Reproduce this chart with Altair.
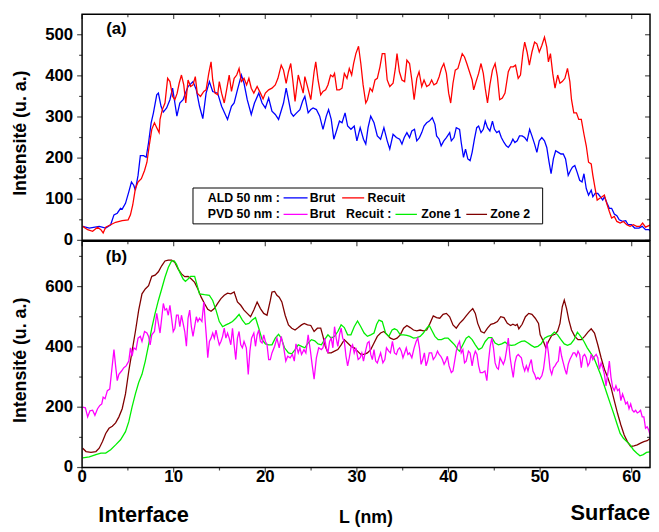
import altair as alt
import pandas as pd

FONT = "Liberation Sans"

# ---------------- data ----------------
ald_brut = [(0.07,34),(0.79,30),(1.87,34),(2.58,30),(3.12,38),(3.48,62),(3.84,66),(4.20,78),(4.38,76),(4.74,90),
 (5.10,118),(5.39,142),(5.64,134),(5.82,122),(6.11,158),(6.36,206),(6.72,206),(7.00,202),(7.26,238),(7.54,286),
 (7.79,310),(8.15,354),(8.33,358),(8.62,326),(8.87,312),(9.23,322),(9.59,342),(9.88,370),(10.13,334),(10.35,302),
 (10.67,334),(11.03,342),(11.28,358),(11.57,374),(12.11,386),(12.47,366),(12.82,326),(13.18,296),(13.54,358),(13.90,386),
 (14.26,362),(14.80,358),(15.23,326),(15.88,294),(16.31,326),(16.60,334),(16.96,366),(17.39,402),(17.68,382),(18.03,342),
 (18.47,306),(18.82,334),(19.29,358),(19.65,334),(20.01,322),(20.37,346),
 (20.73,314),(21.09,306),(21.45,294),(21.99,334),(22.28,370),(22.53,342),(22.81,310),(23.07,302),(23.42,310),(23.78,318),
 (24.07,338),(24.32,350),(24.68,310),(24.97,318),(25.22,322),(25.58,318),(25.94,302),(26.30,270),(26.66,302),(26.91,318),
 (27.20,294),(27.48,246),(27.77,266),(28.10,290),(28.38,286),(28.71,310),(28.99,278),(29.35,270),(29.71,278),(30.00,242),
 (30.36,274),(30.72,246),(30.97,234),(31.22,274),(31.51,302),(31.87,286),(32.23,254),(32.59,246),(32.95,274),(33.31,242),
 (33.59,222),(33.95,258),(34.31,250),(34.67,246),(34.92,234),(35.17,250),(35.46,262),(35.75,250),(36.00,266),(36.29,270),
 (36.54,242),(36.83,250),(37.08,262),(37.33,278),(37.62,286),(37.91,290),(38.23,298),(38.52,282),(38.70,254),(38.98,246),
 (39.20,230),(39.49,242),(39.77,250),(40.13,262),(40.31,242),(40.60,250),(40.85,274),
 (41.21,270),(41.39,238),(41.64,202),(41.86,222),(42.11,198),(42.36,194),(42.58,214),(42.83,246),(43.08,274),(43.29,278),
 (43.55,262),(43.80,270),(44.01,290),(44.26,274),(44.52,266),(44.80,290),(45.02,270),(45.27,262),(45.52,266),(45.77,250),
 (46.06,238),(46.31,230),(46.53,226),(46.78,234),(47.03,246),(47.25,238),(47.50,242),(47.75,254),(48.04,254),(48.32,250),
 (48.58,242),(48.86,270),(49.11,254),(49.40,234),(49.65,214),(49.91,242),(50.19,250),(50.48,242),(50.73,226),(50.98,190),
 (51.20,162),(51.45,198),(51.70,218),(51.99,214),(52.28,210),(52.53,210),(52.78,198),(53.07,158),(53.32,170),(53.53,178),
 (53.79,182),(54.04,166),(54.32,146),(54.58,142),(54.79,162),(55.04,126),(55.29,110),(55.58,122),(55.76,106),(56.01,114),
 (56.30,114),(56.59,106),(56.84,98),(57.02,106),(57.31,90),(57.56,78),(57.81,78),(58.10,64),(58.38,60),(58.64,50),
 (58.99,46),(59.35,48),(59.61,38),(59.97,38),(60.32,30),(60.79,30),(61.15,34),(61.51,26),(61.87,26),(62.05,22)]

ald_recuit = [(0.07,34),(0.61,26),(1.15,22),(1.69,32),(2.05,26),(2.30,18),(2.58,32),(3.12,38),(3.66,44),(4.38,48),
 (5.03,50),(5.28,62),(5.53,86),(5.82,126),(6.11,142),(6.47,150),(6.82,170),(7.08,190),(7.33,230),(7.61,270),
 (7.90,286),(8.15,274),(8.41,262),(8.51,294),(8.76,318),(9.05,334),(9.34,394),(9.59,386),(9.88,350),(10.13,342),
 (10.38,358),(10.60,382),(10.85,402),(11.10,378),(11.32,334),(11.57,390),(11.85,374),(12.11,378),(12.36,398),(12.57,358),
 (12.93,350),(13.29,362),(13.54,366),(13.83,406),(14.08,434),(14.26,390),(14.51,358),(14.80,354),(14.98,386),(15.23,358),
 (15.52,334),(15.81,370),(16.06,402),(16.31,362),(16.60,394),(16.88,402),(17.14,418),(17.39,386),(17.68,394),(17.96,378),
 (18.21,394),(18.47,370),(18.75,358),(19.11,374),(19.47,358),(19.76,344),(20.01,358),(20.37,366),
 (20.73,370),(21.09,378),(21.38,394),(21.74,426),(21.99,414),(22.28,382),(22.53,410),(22.78,430),(23.00,390),(23.25,338),
 (23.60,402),(23.89,378),(24.14,358),(24.32,398),(24.61,374),(24.97,342),(25.33,410),(25.51,434),(25.76,390),(26.05,354),
 (26.30,362),(26.59,366),(26.84,378),(27.13,402),(27.38,398),(27.56,406),(27.81,366),(28.10,366),(28.38,370),(28.63,406),
 (28.92,394),(29.17,418),(29.43,402),(29.64,430),(29.89,454),(30.18,472),(30.43,430),(30.68,378),(30.97,334),(31.15,342),
 (31.44,370),(31.69,362),(31.98,390),(32.23,394),(32.52,422),(32.77,454),(33.05,454),(33.31,390),(33.59,374),(33.95,382),
 (34.20,418),(34.38,454),(34.64,410),(34.92,390),(35.21,386),(35.46,438),(35.75,430),(36.00,390),(36.25,342),(36.54,394),
 (36.79,410),(37.08,374),(37.33,390),(37.62,374),(37.91,378),(38.16,390),(38.41,378),(38.70,382),(38.98,398),(39.23,418),
 (39.49,430),(39.77,406),(40.02,358),(40.24,334),(40.49,382),(40.74,414),(41.03,418),
 (41.50,454),(41.75,446),(42.00,430),(42.29,410),(42.58,390),(42.75,366),(43.01,386),(43.29,406),(43.55,430),(43.80,406),
 (44.01,370),(44.26,334),(44.52,378),(44.80,414),(45.09,430),(45.34,398),(45.59,342),(45.88,346),(46.17,358),(46.53,410),
 (46.78,422),(47.07,422),(47.32,426),(47.61,394),(47.86,402),(48.14,458),(48.32,482),(48.58,458),(48.83,426),(49.11,458),
 (49.40,482),(49.65,478),(49.91,458),(50.19,474),(50.48,494),(50.73,470),(50.91,434),(51.13,454),(51.38,406),(51.63,370),
 (51.92,402),(52.17,382),(52.42,386),(52.71,394),(52.99,418),(53.25,386),(53.43,342),(53.68,310),(53.97,310),(54.22,294),
 (54.50,294),(54.79,258),(55.04,230),(55.29,190),(55.58,186),(55.76,158),(56.01,126),(56.23,98),(56.48,102),(56.77,106),
 (57.02,110),(57.27,90),(57.56,70),(57.81,54),(58.10,58),(58.38,46),(58.74,42),(59.10,46),(59.46,38),(59.82,34),
 (60.18,38),(60.54,34),(60.90,34),(61.19,42),(61.51,32),(61.87,36),(62.12,38)]

pvd_brut = [(0.07,200),(0.36,198),(0.61,168),(0.86,188),(1.15,190),(1.40,173),(1.69,195),(1.94,206),(2.15,211),(2.30,233),
 (2.51,228),(2.76,255),(3.02,260),(3.23,320),(3.48,391),(3.66,337),(3.84,288),(4.02,309),(4.31,320),(4.56,331),
 (4.81,337),(5.10,353),(5.28,397),(5.46,369),(5.64,397),(5.89,391),(6.11,429),(6.36,435),(6.54,418),(6.82,451),
 (7.08,446),(7.26,435),(7.43,407),(7.61,440),(7.90,451),(8.15,511),(8.33,478),(8.51,446),(8.69,495),(8.87,544),
 (9.05,522),(9.23,527),(9.41,505),(9.59,538),(9.77,495),(9.95,451),(10.13,462),(10.31,505),(10.49,505),(10.67,467),
 (10.85,505),(11.03,478),(11.21,451),(11.39,402),(11.57,495),(11.75,522),(11.93,467),(12.11,435),(12.29,467),(12.47,500),
 (12.64,484),(12.82,495),(13.08,484),(13.29,549),(13.44,484),(13.58,429),(13.72,364),(13.90,418),(14.08,429),(14.26,446),
 (14.44,429),(14.62,456),(14.80,429),(14.98,407),(15.16,418),(15.34,435),(15.52,462),(15.70,429),(15.88,446),(16.06,429),
 (16.24,407),(16.42,462),(16.60,407),(16.78,358),(16.96,429),(17.14,451),(17.32,407),(17.50,397),(17.68,418),(17.93,397),
 (18.14,309),(18.32,386),(18.50,429),(18.75,446),(18.93,402),(19.11,440),(19.29,456),(19.47,418),(19.65,413),(19.83,440),
 (20.01,418),(20.19,407),(20.37,358),(20.55,358),
 (20.73,380),(21.02,402),(21.27,429),(21.52,397),(21.74,435),(21.99,402),(22.24,353),(22.45,369),(22.71,364),(22.96,375),
 (23.17,353),(23.35,410),(23.60,380),(23.78,397),(23.96,375),(24.22,391),(24.43,380),(24.68,440),(24.93,386),(25.11,342),
 (25.33,293),(25.58,364),(25.83,397),(26.12,391),(26.30,397),(26.48,429),(26.66,397),(26.84,380),(27.02,418),(27.20,429),
 (27.38,397),(27.56,467),(27.74,429),(27.92,402),(28.10,440),(28.28,462),(28.45,429),(28.63,418),(28.81,369),(28.99,337),
 (29.17,364),(29.35,397),(29.53,407),(29.71,380),(29.89,397),(30.14,358),(30.36,364),(30.54,380),(30.72,353),(30.90,380),
 (31.15,413),(31.33,418),(31.51,375),(31.69,358),(31.87,391),(32.05,353),(32.23,347),(32.41,364),(32.59,380),(32.84,347),
 (33.05,358),(33.23,397),(33.48,386),(33.66,380),(33.88,418),(34.10,380),(34.31,375),(34.49,391),(34.67,397),(34.85,386),
 (35.03,364),(35.21,380),(35.39,397),(35.57,375),(35.75,380),(36.00,364),(36.25,397),(36.47,418),(36.65,429),(36.83,397),
 (37.01,342),(37.19,358),(37.37,380),(37.55,337),(37.72,353),(37.90,380),(38.16,380),(38.34,358),(38.59,369),(38.80,386),
 (38.98,375),(39.16,369),(39.34,358),(39.52,342),(39.70,353),(39.88,369),(40.06,337),(40.31,315),(40.49,320),(40.67,353),
 (40.85,386),(41.03,407),
 (41.21,418),(41.39,380),(41.57,391),(41.75,347),(41.93,353),(42.18,386),(42.36,380),(42.58,337),(42.76,369),(42.93,386),
 (43.11,375),(43.29,337),(43.47,315),(43.73,315),(43.98,320),(44.19,288),(44.37,353),(44.55,402),(44.73,429),(44.91,397),
 (45.09,347),(45.27,331),(45.45,326),(45.63,364),(45.81,353),(45.99,342),(46.17,358),(46.35,391),(46.53,429),(46.71,369),
 (46.89,331),(47.07,299),(47.25,347),(47.43,369),(47.61,375),(47.79,369),(47.96,364),(48.14,337),(48.32,320),(48.50,337),
 (48.68,320),(48.86,342),(49.04,358),(49.22,320),(49.40,309),(49.58,293),(49.76,299),(49.94,293),(50.19,304),(50.37,326),
 (50.55,369),(50.73,418),(50.91,380),(51.09,326),(51.27,309),(51.45,331),(51.63,337),(51.81,347),(51.99,353),(52.17,402),
 (52.35,369),(52.53,347),(52.71,326),(52.89,309),(53.07,342),(53.25,358),(53.43,369),(53.61,380),(53.79,380),(53.97,369),
 (54.14,386),(54.32,375),(54.50,331),(54.68,369),(54.86,375),(55.04,364),(55.22,337),(55.40,347),(55.58,375),(55.76,358),
 (55.94,369),(56.12,375),(56.30,364),(56.48,326),(56.66,347),(56.84,331),(57.02,309),(57.20,271),(57.38,309),(57.56,353),
 (57.74,299),(57.92,266),(58.10,255),(58.28,271),(58.46,255),(58.64,260),(58.82,222),(59.00,244),(59.18,228),(59.35,211),
 (59.53,217),(59.71,195),(59.89,211),(60.07,190),(60.25,184),(60.43,190),(60.61,181),(60.79,184),(60.97,190),(61.15,168),
 (61.33,168),(61.51,130),(61.69,135),(61.87,124),(62.05,102)]

zone1 = [(0.07,32),(0.79,35),(1.51,43),(2.05,48),(2.58,48),(3.12,59),(3.66,75),(4.20,92),(4.74,119),(5.10,152),
 (5.46,201),(5.82,244),(6.18,282),(6.54,309),(6.90,353),(7.26,407),(7.61,462),(7.97,511),(8.33,554),(8.69,592),
 (9.05,631),(9.41,663),(9.77,685),(10.06,685),(10.31,674),(10.67,647),(11.03,625),(11.28,617),(11.57,625),(11.85,634),
 (12.29,634),(12.57,603),(12.82,576),(13.36,573),(13.90,571),(14.26,554),(14.62,522),(14.98,484),(15.34,467),(15.70,473),
 (16.06,478),(16.42,484),(16.78,495),(17.14,508),(17.50,489),(17.86,475),(18.21,478),(18.57,489),(18.93,497),(19.29,462),
 (19.65,424),(20.01,410),(20.37,407),
 (20.73,407),(21.09,429),(21.45,442),(21.74,429),(22.10,397),(22.53,380),(22.89,377),(23.25,391),(23.60,407),(23.96,402),
 (24.32,397),(24.68,413),(25.04,424),(25.40,420),(25.76,410),(26.12,407),(26.48,424),(26.84,440),(27.20,429),(27.56,435),
 (27.92,451),(28.28,473),(28.63,464),(28.99,440),(29.35,440),(29.71,467),(30.07,486),(30.43,467),(30.79,446),(31.15,435),
 (31.51,440),(31.87,446),(32.16,475),(32.41,489),(32.77,484),(33.13,446),(33.49,435),(33.84,456),(34.10,460),(34.38,456),
 (34.74,440),(35.10,440),(35.46,438),(35.82,435),(36.18,429),(36.54,431),(36.90,435),(37.26,446),(37.62,462),(37.91,471),
 (38.16,456),(38.52,435),(38.87,424),(39.23,424),(39.59,429),(39.95,429),(40.31,418),(40.67,407),(41.03,391),
 (41.21,386),(41.57,407),(41.93,429),(42.22,435),(42.58,424),(42.93,407),(43.29,391),(43.65,397),(44.01,418),(44.37,431),
 (44.73,431),(45.09,413),(45.45,407),(45.81,410),(46.17,416),(46.53,407),(46.89,405),(47.25,407),(47.61,413),(47.96,418),
 (48.32,420),(48.68,413),(49.04,405),(49.40,399),(49.76,402),(50.12,410),(50.48,429),(50.84,435),(51.20,438),(51.56,449),
 (51.92,440),(52.28,424),(52.64,410),(52.99,405),(53.35,410),(53.71,424),(54.07,449),(54.43,435),(54.79,418),(55.15,397),
 (55.51,380),(55.87,364),(56.23,337),(56.59,309),(56.95,277),(57.31,244),(57.67,211),(58.03,179),(58.38,146),(58.74,113),
 (59.10,97),(59.46,86),(59.82,75),(60.18,59),(60.54,48),(60.90,39),(61.26,43),(61.62,50),(61.98,52)]

zone2 = [(0.07,64),(0.43,53),(0.97,50),(1.51,53),(1.87,64),(2.23,86),(2.58,113),(2.94,130),(3.30,137),(3.66,148),
 (4.02,168),(4.38,195),(4.74,244),(5.10,320),(5.46,386),(5.82,451),(6.18,522),(6.54,576),(6.90,592),(7.26,603),
 (7.61,634),(7.97,638),(8.33,649),(8.69,669),(9.05,685),(9.41,688),(9.77,688),(10.13,680),(10.49,658),(10.85,642),
 (11.21,633),(11.57,634),(11.93,625),(12.29,614),(12.64,592),(13.00,565),(13.36,544),(13.72,525),(14.08,518),(14.44,527),
 (14.80,544),(15.16,560),(15.52,571),(15.88,578),(16.24,576),(16.60,582),(16.96,549),(17.32,538),(17.68,522),(18.03,511),
 (18.39,500),(18.75,522),(19.11,549),(19.47,527),(19.83,511),(20.19,505),(20.55,554),
 (20.73,582),(21.02,584),(21.27,571),(21.52,565),(21.81,549),(22.17,505),(22.53,473),(22.89,462),(23.25,456),(23.60,464),
 (23.96,473),(24.25,478),(24.61,473),(24.97,471),(25.33,451),(25.69,462),(26.05,462),(26.30,435),(26.55,402),(26.84,380),
 (27.20,380),(27.56,386),(27.92,391),(28.28,407),(28.63,424),(28.99,413),(29.35,402),(29.71,397),(30.07,386),(30.43,375),
 (30.79,375),(31.15,380),(31.51,391),(31.87,413),(32.23,435),(32.59,446),(32.95,451),(33.31,440),(33.66,429),(34.02,424),
 (34.38,429),(34.74,440),(35.10,462),(35.46,471),(35.82,464),(36.18,456),(36.54,453),(36.90,456),(37.26,453),(37.62,456),
 (37.98,478),(38.34,503),(38.70,497),(39.05,495),(39.41,508),(39.77,511),(40.13,500),(40.49,473),(40.85,462),
 (41.21,478),(41.57,489),(41.93,503),(42.29,516),(42.65,527),(42.93,511),(43.19,478),(43.55,451),(43.90,446),(44.26,462),
 (44.62,475),(44.98,478),(45.34,484),(45.70,500),(46.06,497),(46.42,478),(46.78,471),(47.03,475),(47.32,471),(47.50,475),
 (47.68,460),(48.04,475),(48.40,500),(48.76,511),(49.11,508),(49.47,495),(49.83,478),(50.01,440),(50.37,418),(50.62,397),
 (50.91,418),(51.27,438),(51.63,442),(51.92,453),(52.17,478),(52.42,533),(52.64,555),(52.89,527),(53.14,489),(53.43,456),
 (53.79,435),(54.14,424),(54.50,424),(54.86,435),(55.22,449),(55.58,460),(55.94,446),(56.30,407),(56.66,364),(57.02,326),
 (57.38,299),(57.74,266),(58.10,222),(58.46,179),(58.82,141),(59.18,108),(59.53,86),(59.89,70),(60.25,72),(60.61,75),
 (60.97,81),(61.33,86),(61.69,89),(62.05,97)]

x_major = [0, 10, 20, 30, 40, 50, 60]
x_minor = [5, 15, 25, 35, 45, 55]
ya_major = [0, 100, 200, 300, 400, 500]
ya_minor = [50, 150, 250, 350, 450]
yb_major = [0, 200, 400, 600]
yb_minor = [100, 300, 500, 700]

X_MAX, YA_MAX, YB_MAX = 62, 550, 750
W, H = 575, 229
MAJ, MIN = 5, 3

names_a = ["ALD Brut", "ALD Recuit"]
colors_a = ["#0000ff", "#ff0000"]
names_b = ["Zone 2", "Zone 1", "PVD Brut"]
colors_b = ["#800000", "#00ee00", "#ff00ff"]


def to_df(named):
    rows = []
    for name, pts in named:
        for i, (x, y) in enumerate(pts):
            rows.append({"serie": name, "L": x, "I": y, "o": i})
    return pd.DataFrame(rows)


df_a = to_df([("ALD Brut", ald_brut), ("ALD Recuit", ald_recuit)])
df_b = to_df([("Zone 2", zone2), ("Zone 1", zone1), ("PVD Brut", pvd_brut)])
one = pd.DataFrame({"k": [0]})


def text(s, x, y, size, align="left", angle=0):
    return alt.Chart(one).mark_text(text=s, font=FONT, fontWeight="bold", fontSize=size, angle=angle,
                                    align=align, baseline="middle", color="black").encode(
        x=alt.value(x), y=alt.value(y))


def seg(color, x1, x2, y):
    return alt.Chart(one).mark_rule(color=color, strokeWidth=1.3).encode(
        x=alt.value(x1), x2=alt.value(x2), y=alt.value(y))


def make_panel(df, names, colors, ymax, y_major, y_minor, show_x, extra):
    xs = alt.Scale(domain=[0, X_MAX], nice=False, zero=False)
    ys = alt.Scale(domain=[0, ymax], nice=False, zero=False)
    lines = alt.Chart(df).mark_line(strokeWidth=1.3, clip=True).encode(
        x=alt.X("L:Q", scale=xs, axis=None),
        y=alt.Y("I:Q", scale=ys, axis=None),
        color=alt.Color("serie:N", scale=alt.Scale(domain=names, range=colors), legend=None),
        detail="serie:N", order="o:Q")
    layers = [lines]
    # frame
    layers.append(alt.Chart(one).mark_rect(fillOpacity=0, stroke="black", strokeWidth=1.5).encode(
        x=alt.value(0), x2=alt.value(W), y=alt.value(0), y2=alt.value(H)))
    # horizontal tick marks: left outward, right inward
    for vals, ln in ((y_major, MAJ), (y_minor, MIN)):
        for edge in (0, X_MAX):
            d = pd.DataFrame({"v": vals, "e": [edge] * len(vals)})
            layers.append(alt.Chart(d).mark_tick(orient="horizontal", size=ln, thickness=1.2,
                                                 color="black", xOffset=-ln / 2).encode(
                y=alt.Y("v:Q", scale=ys, axis=None), x=alt.X("e:Q", scale=xs, axis=None)))
    # vertical tick marks: top inward, bottom outward (lower panel)
    edges = [ymax] + ([0] if show_x else [])
    for vals, ln in ((x_major, MAJ), (x_minor, MIN)):
        for edge in edges:
            d = pd.DataFrame({"v": vals, "e": [edge] * len(vals)})
            layers.append(alt.Chart(d).mark_tick(orient="vertical", size=ln, thickness=1.2,
                                                 color="black", yOffset=ln / 2).encode(
                x=alt.X("v:Q", scale=xs, axis=None), y=alt.Y("e:Q", scale=ys, axis=None)))
    # y tick labels
    layers.append(alt.Chart(pd.DataFrame({"v": y_major})).mark_text(
        font=FONT, fontWeight="bold", fontSize=17, align="right", baseline="middle", dx=-9, color="black").encode(
        y=alt.Y("v:Q", scale=ys, axis=None), x=alt.value(0), text=alt.Text("v:Q", format="d")))
    # y title
    layers.append(text("Intensité (u. a.)", -61.5, H / 2 + 6, 18, "center", 270))
    if show_x:
        layers.append(alt.Chart(pd.DataFrame({"v": x_major})).mark_text(
            font=FONT, fontWeight="bold", fontSize=17, align="center", baseline="middle", color="black").encode(
            x=alt.X("v:Q", scale=xs, axis=None), y=alt.value(H + 10), text=alt.Text("v:Q", format="d")))
        layers.append(text("L (nm)", W / 2, H + 51, 18, "center"))
    layers += extra
    return alt.layer(*layers).properties(width=W, height=H)


legend_box = alt.Chart(one).mark_rect(fill="white", stroke="black", strokeWidth=1).encode(
    x=alt.value(112.3), x2=alt.value(466.3), y=alt.value(176), y2=alt.value(212.3))
r1, r2 = 186, 202.7
extra_a = [legend_box,
           text("ALD 50 nm :", 127.3, r1, 12.5), seg("#0000ff", 204, 228.3, r1), text("Brut", 230.6, r1, 12.5),
           seg("#ff0000", 263.3, 285.6, r1), text("Recuit", 289, r1, 12.5),
           text("PVD 50 nm :", 127.3, r2, 12.5), seg("#ff00ff", 204, 228.3, r2), text("Brut", 230.6, r2, 12.5),
           text("Recuit :", 267.3, r2, 12.5), seg("#00ee00", 317.3, 339, r2), text("Zone 1", 343.3, r2, 12.5),
           seg("#800000", 389, 410, r2), text("Zone 2", 413.3, r2, 12.5),
           text("(a)", 34.8, 15, 17, "center")]
extra_b = [text("(b)", 34.8, 16, 17, "center"),
           text("Interface", 62.3, 276.7, 22, "center"),
           text("Surface", 534.8, 275, 22, "center")]

panel_a = make_panel(df_a, names_a, colors_a, YA_MAX, ya_major, ya_minor, False, extra_a)
panel_b = make_panel(df_b, names_b, colors_b, YB_MAX, yb_major, yb_minor, True, extra_b)

chart = alt.vconcat(panel_a, panel_b, spacing=1, bounds="flush").resolve_scale(color="independent").properties(
    padding={"left": 4, "top": 2, "right": 0, "bottom": 0}
).configure_view(stroke=None)

chart.save("out.html", embed_options={"renderer": "svg", "actions": False})
